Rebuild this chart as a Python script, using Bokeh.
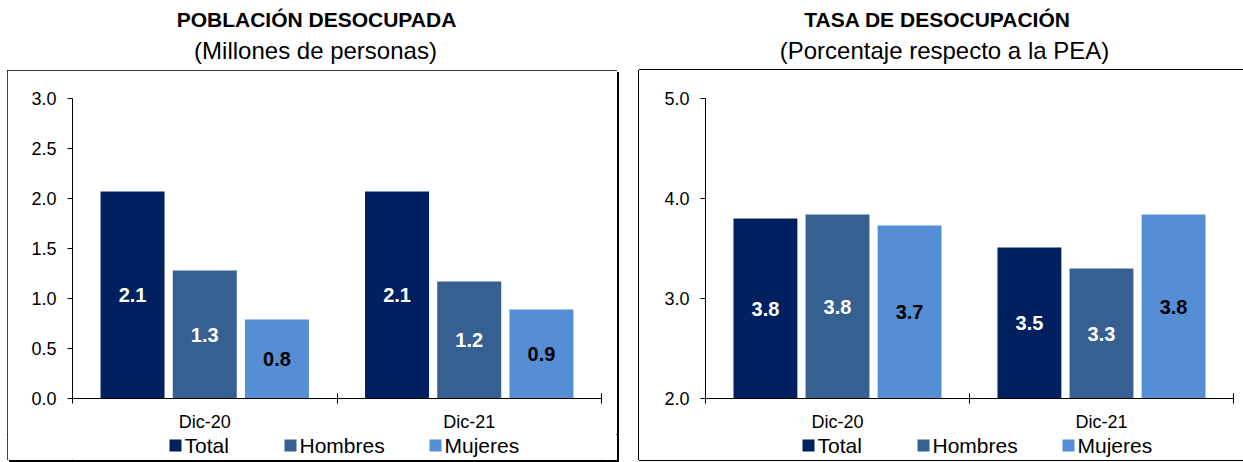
from bokeh.plotting import figure
from bokeh.layouts import row, column
from bokeh.models import (Range1d, FixedTicker, NumeralTickFormatter,
                          ColumnDataSource, Spacer)
from bokeh.core.properties import value
from bokeh.embed import file_html
from bokeh.resources import INLINE

# ---------------- data ----------------
periods = ["Dic-20", "Dic-21"]
series = ["Total", "Hombres", "Mujeres"]

pob_total = [2.07, 2.07]
pob_hombres = [1.28, 1.17]
pob_mujeres = [0.79, 0.89]

tasa_total = [3.80, 3.51]
tasa_hombres = [3.84, 3.30]
tasa_mujeres = [3.73, 3.84]

pob_ticks = [0.0, 0.5, 1.0, 1.5, 2.0, 2.5, 3.0]
tasa_ticks = [2.0, 3.0, 4.0, 5.0]

title_left = "POBLACIÓN DESOCUPADA"
subtitle_left = "(Millones de personas)"
title_right = "TASA DE DESOCUPACIÓN"
subtitle_right = "(Porcentaje respecto a la PEA)"

# ---------------- style ----------------
colors = ["#002060", "#376092", "#558ED5"]
label_colors = ["white", "white", "black"]
offsets = [-0.273, 0.0, 0.273]
bar_w = 0.242
legend_square_x = [103, 218, 363]     # legend key centres (px from frame left)
FONT = value("Liberation Sans")
HEAD_H = 70
CHART_H = 364
LEG_H = 26


def make_header(width, title, subtitle, cx_title, cx_sub):
    h = figure(width=width, height=HEAD_H, x_range=Range1d(0, width),
               y_range=Range1d(HEAD_H, 0), title=None,
               output_backend="svg", toolbar_location=None,
               x_axis_location=None, y_axis_location=None, min_border=0)
    h.grid.visible = False
    h.outline_line_color = None
    h.text(x=[cx_title], y=[18.5], text=[title], text_align="center",
           text_baseline="middle", text_font=FONT, text_font_size="21px",
           text_font_style="bold", text_color="black")
    h.text(x=[cx_sub], y=[50], text=[subtitle], text_align="center",
           text_baseline="middle", text_font=FONT, text_font_size="24px",
           text_color="black")
    return h


def make_legend(width, mbl, mbr):
    fw = width - mbl - mbr
    lg = figure(width=width, height=LEG_H, x_range=Range1d(0, fw),
                y_range=Range1d(LEG_H, 0), title=None,
                output_backend="svg", toolbar_location=None,
                x_axis_location=None, y_axis_location=None,
                min_border_left=mbl, min_border_right=mbr,
                min_border_top=0, min_border_bottom=0)
    lg.grid.visible = False
    lg.outline_line_color = None
    xs = list(legend_square_x)
    src = ColumnDataSource(dict(x=xs, tx=[x + 9 for x in xs], y=[11] * 3,
                                name=series, color=colors))
    lg.scatter(x="x", y="y", marker="square", size=12, fill_color="color",
               line_color=None, source=src)
    lg.text(x="tx", y="y", text="name", source=src, text_align="left",
            text_baseline="middle", text_font=FONT, text_font_size="21px",
            text_color="black")
    return lg


def make_chart(width, mbl, mbr, y0, y1, ticks, data):
    p = figure(width=width, height=CHART_H, x_range=Range1d(0, 2), y_range=Range1d(y0, y1),
               output_backend="svg", toolbar_location=None,
               min_border_left=mbl, min_border_right=mbr, min_border_top=28,
               min_border_bottom=36)
    p.grid.visible = False
    p.outline_line_color = None
    p.background_fill_color = "white"
    p.border_fill_color = "white"

    yax = p.yaxis[0]
    yax.ticker = FixedTicker(ticks=ticks)
    yax.formatter = NumeralTickFormatter(format="0.0")
    yax.major_tick_out = 5
    yax.major_tick_in = 0
    yax.minor_tick_out = 0
    yax.minor_tick_in = 0
    yax.major_label_standoff = 11
    yax.major_label_text_font = "Liberation Sans"
    yax.major_label_text_font_size = "18px"
    yax.major_label_text_color = "black"
    yax.axis_line_color = "black"
    yax.major_tick_line_color = "black"

    xax = p.xaxis[0]
    xax.ticker = FixedTicker(ticks=[i + 0.5 for i in range(len(periods))],
                             minor_ticks=list(range(len(periods) + 1)))
    xax.major_label_overrides = {i + 0.5: lab for i, lab in enumerate(periods)}
    xax.major_tick_out = 0
    xax.major_tick_in = 0
    xax.minor_tick_out = 5
    xax.minor_tick_in = 5
    xax.minor_tick_line_color = "black"
    xax.major_label_standoff = 8
    xax.major_label_text_font = "Liberation Sans"
    xax.major_label_text_font_size = "18px"
    xax.major_label_text_color = "black"
    xax.axis_line_color = "black"

    for k, vals in enumerate(data):
        xs = [i + 0.5 + offsets[k] for i in range(len(periods))]
        mids = [(y0 + v) / 2 for v in vals]
        labels = [f"{v:.1f}" for v in vals]
        src = ColumnDataSource(dict(x=xs, top=vals, mid=mids, label=labels))
        p.vbar(x="x", top="top", bottom=y0, width=bar_w, source=src,
               fill_color=colors[k], line_color=None)
        p.text(x="x", y="mid", text="label", source=src, text_align="center",
               text_baseline="middle", text_font=FONT, text_font_size="20px",
               text_font_style="bold", text_color=label_colors[k])
    return p


hL = make_header(610, title_left, subtitle_left, 309, 308)
pL = make_chart(610, 65, 16, 0.0, 3.0, pob_ticks, [pob_total, pob_hombres, pob_mujeres])
boxL = column(pL, make_legend(610, 65, 16),
              styles={"outline": "1px solid black", "outline-offset": "-1px",
                      "box-shadow": "2px 2px 0 0 #000"})

hR = make_header(604, title_right, subtitle_right, 298, 305)
pR = make_chart(604, 66, 10, 2.0, 5.0, tasa_ticks, [tasa_total, tasa_hombres, tasa_mujeres])
boxR = column(pR, make_legend(604, 66, 10),
              styles={"box-shadow": "-1px 0 0 0 #000, 0 -1px 0 0 #000, 0 1px 0 0 #000"})

total_h = HEAD_H + CHART_H + LEG_H
layout = row(Spacer(width=7, height=total_h), column(hL, boxL),
             Spacer(width=22, height=total_h), column(hR, boxR))

open("out.html", "w").write(file_html(layout, INLINE))
